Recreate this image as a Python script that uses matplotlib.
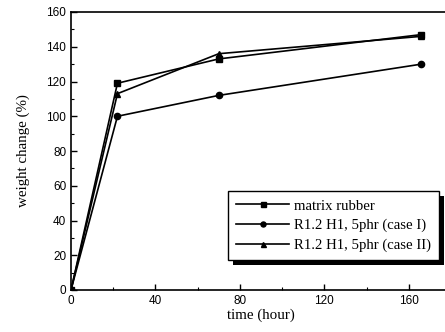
import matplotlib
matplotlib.use("Agg")
import matplotlib.pyplot as plt
from matplotlib.ticker import MultipleLocator
import matplotlib.patheffects as pe

time_h = [0, 22, 70, 166]
matrix_rubber = [0, 119, 133, 147]
case_I = [0, 100, 112, 130]
case_II = [0, 113, 136, 146]
labels = ["matrix rubber", "R1.2 H1, 5phr (case I)", "R1.2 H1, 5phr (case II)"]

fig = plt.figure(figsize=(4.45, 3.32), dpi=100)
ax = fig.add_axes([71/445, 42/332, 380/445, 278/332])

kw = dict(color="black", lw=1.2, markersize=4.5)
ax.plot(time_h, matrix_rubber, marker="s", label=labels[0], **kw)
ax.plot(time_h, case_I, marker="o", label=labels[1], **kw)
ax.plot(time_h, case_II, marker="^", label=labels[2], **kw)

ax.set_xlim(0, 180)
ax.set_ylim(0, 160)
ax.xaxis.set_major_locator(MultipleLocator(40))
ax.xaxis.set_minor_locator(MultipleLocator(20))
ax.yaxis.set_major_locator(MultipleLocator(20))
ax.yaxis.set_minor_locator(MultipleLocator(10))
ax.tick_params(which="both", direction="in", top=False, right=False)
ax.tick_params(which="major", length=4, width=1)
ax.tick_params(which="minor", length=2, width=0.8)
for lab in ax.get_xticklabels() + ax.get_yticklabels():
    lab.set_family("Liberation Sans")
    lab.set_fontsize(8.5)
for s in ax.spines.values():
    s.set_linewidth(1.2)

ax.set_xlabel("time (hour)", family="Liberation Serif", fontsize=10.8, labelpad=1)
ax.set_ylabel("weight change (%)", family="Liberation Serif", fontsize=10.8, labelpad=12)

leg = ax.legend(loc="lower right", bbox_to_anchor=(0.968, 0.108), borderaxespad=0,
                prop={"family": "Liberation Serif", "size": 10.6}, frameon=True,
                fancybox=False, shadow=False, framealpha=1.0,
                handlelength=3.6, handletextpad=0.3,
                labelspacing=0.42, borderpad=0.55, markerscale=0.8)
frame = leg.get_frame()
frame.set_facecolor("white")
frame.set_edgecolor("black")
frame.set_linewidth(1.0)
frame.set_path_effects([pe.SimplePatchShadow(offset=(3.5, -3.5), shadow_rgbFace="black", alpha=1.0), pe.Normal()])

fig.savefig("out.png", dpi=100)
